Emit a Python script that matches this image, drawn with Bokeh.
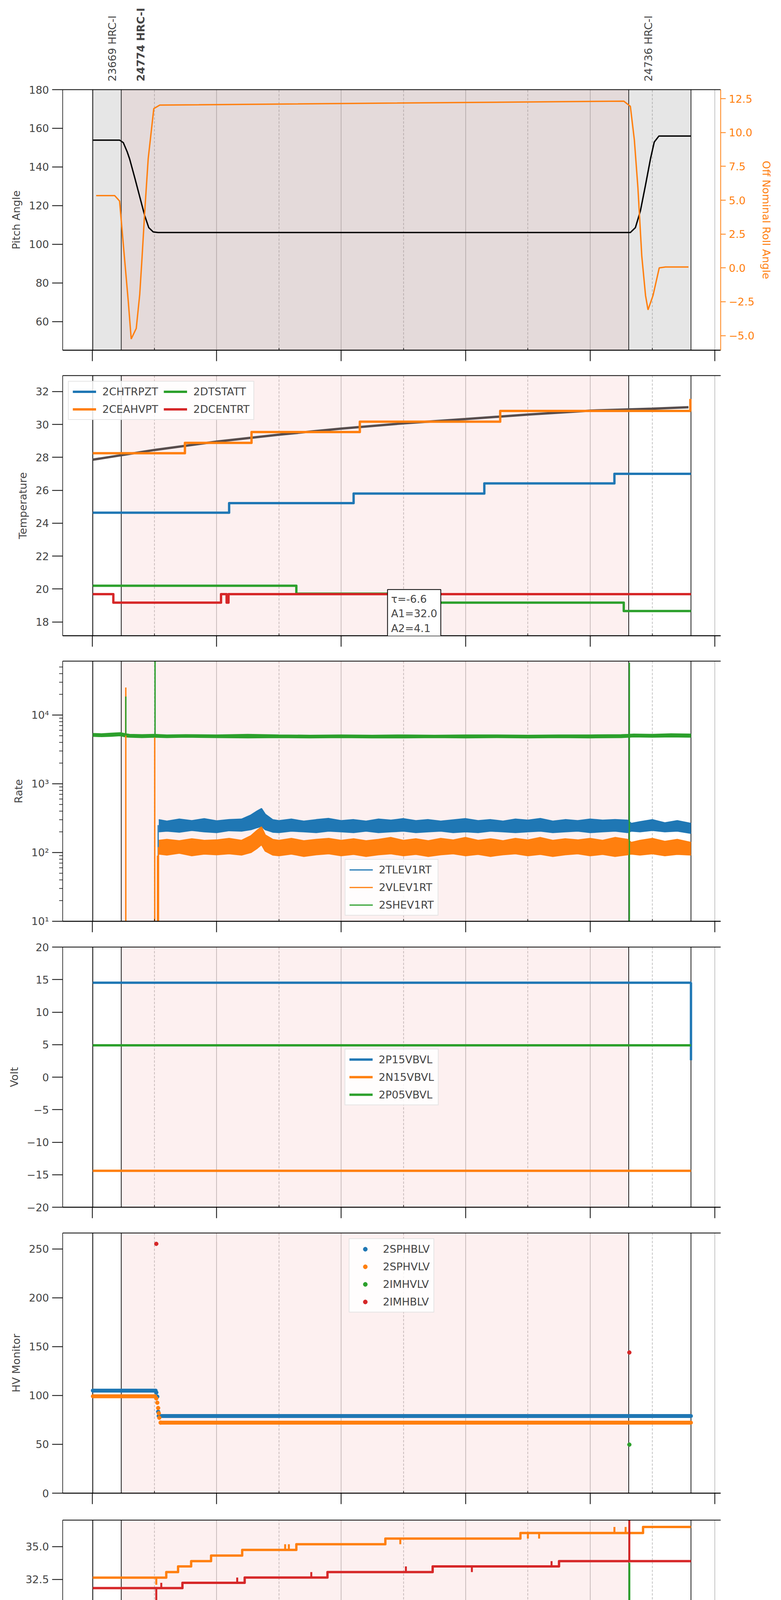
import numpy as np
from bokeh.plotting import figure
from bokeh.layouts import column
from bokeh.models import (Range1d, LinearAxis, FixedTicker, BoxAnnotation, Span,
                          Label, Legend, LegendItem, CustomLabelingPolicy, AllLabels)
from bokeh.embed import file_html
from bokeh.resources import INLINE

BLUE, ORANGE, GREEN, RED = "#1f77b4", "#ff7f0e", "#2ca02c", "#d62728"
FONT = "DejaVu Sans"

# time axis: hours of 2021-04-15 (day 105)
x_ticks = [0, 2, 4, 6, 8, 10]
x_tick_labels = ["00h", "02h", "04h", "06h", "08h", "10h"]
x_minor_ticks = [1, 3, 5, 7, 9]
x_minor_labels = ["01h", "03h", "05h", "07h", "09h"]
x_title = "2021-04-15 (105)"

# observations
obs_start = [0.01, 0.467, 8.62]
obs_end = 9.62
obs_names = ["23669 HRC-I", "24774 HRC-I", "24736 HRC-I"]
obs_current = [False, True, False]

# --- pitch / roll
pitch_ticks = [60, 80, 100, 120, 140, 160, 180]
roll_ticks = [-5.0, -2.5, 0.0, 2.5, 5.0, 7.5, 10.0, 12.5]
pitch_t = [0.01, 0.44, 0.50, 0.563, 0.603, 0.684, 0.764, 0.844, 0.909, 0.981, 1.06,
           8.646, 8.727, 8.807, 8.89, 8.97, 9.03, 9.105, 9.62]
pitch_v = [153.9, 153.9, 152.6, 147.8, 144.0, 134.4, 124.6, 114.8, 108.6, 106.4, 106.1,
           106.1, 108.6, 117.2, 130.7, 144.3, 152.9, 156.0, 156.0]
roll_t = [0.064, 0.362, 0.44, 0.52, 0.58, 0.627, 0.708, 0.764, 0.80, 0.845, 0.90, 0.99, 1.086,
          8.54, 8.646, 8.71, 8.767, 8.83, 8.89, 8.93, 9.01, 9.11, 9.21, 9.58]
roll_v = [5.34, 5.34, 4.94, 0.68, -2.48, -5.25, -4.47, -1.96, 0.68, 4.2, 8.07, 11.77, 12.03,
          12.32, 11.94, 9.47, 5.96, 0.86, -2.04, -3.1, -2.04, 0.0, 0.07, 0.07]

# --- temperature
temp_ticks = [18, 20, 22, 24, 26, 28, 30, 32]
chtrpzt_t = [0.01, 2.2, 4.2, 6.3, 8.39, 9.62]
chtrpzt_v = [24.64, 25.22, 25.8, 26.42, 27.0, 27.0]
ceahvpt_t = [0.01, 1.49, 2.56, 4.30, 6.555, 9.62]
ceahvpt_v = [28.25, 28.88, 29.54, 30.17, 30.82, 30.82]
dtstatt_t = [0.01, 3.28, 5.29, 8.54, 9.62]
dtstatt_v = [20.2, 19.72, 19.17, 18.66, 18.66]
dcentrt_t = [0.01, 0.34, 2.07, 2.16, 2.19, 9.62]
dcentrt_v = [19.69, 19.17, 19.69, 19.17, 19.69, 19.69]
ceahvpt_spk_t = [9.61]
ceahvpt_spk_a = [30.82]
ceahvpt_spk_b = [31.55]
fit_t = [0.01, 1.0, 2.0, 3.0, 4.0, 5.0, 6.0, 7.0, 8.0, 9.0, 9.58]
fit_v = [27.86, 28.45, 28.96, 29.38, 29.75, 30.07, 30.33, 30.6, 30.84, 30.96, 31.05]
fit_tau, fit_a1, fit_a2 = -6.6, 32.0, 4.1
fit_box_x, fit_box_y = 4.745, 19.97

# --- rates
rate_ticks = [10, 100, 1000, 10000]
rate_tick_labels = ["10¹", "10²", "10³", "10⁴"]
rate_minor = [20, 30, 40, 50, 60, 70, 80, 90, 200, 300, 400, 500, 600, 700, 800, 900,
              2000, 3000, 4000, 5000, 6000, 7000, 8000, 9000, 20000, 30000, 40000, 50000]
rate_t = [1.07, 1.2, 1.4, 1.6, 1.8, 2.0, 2.2, 2.4, 2.55, 2.65, 2.72, 2.78, 2.9, 3.0, 3.2,
          3.4, 3.6, 3.8, 4.0, 4.2, 4.4, 4.6, 4.8, 5.0, 5.2, 5.4, 5.6, 5.8, 6.0, 6.2,
          6.4, 6.6, 6.8, 7.0, 7.2, 7.4, 7.6, 7.8, 8.0, 8.2, 8.4, 8.6, 8.66, 8.8, 9.0,
          9.2, 9.4, 9.62]
tlev1rt_hi = [300, 285, 305, 290, 310, 288, 300, 305, 350, 400, 435, 360, 300, 290, 305,
              285, 300, 312, 290, 300, 285, 305, 295, 310, 290, 300, 285, 298, 310, 290,
              300, 285, 305, 295, 312, 285, 300, 290, 305, 295, 300, 295, 265, 280, 300,
              270, 290, 265]
tlev1rt_lo = [200, 205, 198, 210, 200, 195, 208, 205, 215, 230, 240, 215, 198, 195, 205,
              200, 195, 205, 200, 195, 205, 195, 200, 205, 195, 200, 205, 195, 200, 195,
              205, 200, 195, 200, 205, 195, 200, 205, 195, 200, 205, 195, 205, 200, 210,
              200, 205, 190]
vlev1rt_hi = [150, 155, 148, 158, 150, 152, 160, 150, 175, 210, 235, 180, 155, 150, 160,
              148, 155, 160, 150, 158, 148, 155, 165, 150, 158, 148, 160, 152, 165, 150,
              158, 148, 160, 152, 165, 150, 158, 152, 160, 150, 165, 155, 140, 150, 160,
              145, 155, 140]
vlev1rt_lo = [95, 92, 98, 90, 95, 93, 96, 92, 100, 115, 130, 105, 92, 90, 95,
              88, 93, 96, 90, 94, 88, 93, 96, 90, 94, 88, 93, 96, 90, 94,
              88, 93, 96, 90, 94, 88, 93, 96, 90, 94, 88, 93, 95, 92, 96,
              90, 94, 92]
shev_t = [0.01, 0.15, 0.3, 0.45, 0.54, 0.6, 0.8, 1.0, 1.2, 1.5, 2.0, 2.5, 3.0, 3.5, 4.0,
          4.5, 5.0, 5.5, 6.0, 6.5, 7.0, 7.5, 8.0, 8.5, 8.62, 8.7, 9.0, 9.3, 9.62]
shev1rt_hi = [5350, 5300, 5400, 5500, 5300, 5200, 5150, 5200, 5100, 5150, 5100, 5200, 5100,
              5050, 5100, 5050, 5100, 5050, 5100, 5100, 5050, 5100, 5100, 5150, 5200, 5250,
              5200, 5300, 5250]
shev1rt_lo = [4900, 4850, 4900, 5000, 4800, 4750, 4700, 4750, 4700, 4750, 4700, 4650, 4700,
              4650, 4700, 4650, 4650, 4700, 4650, 4700, 4650, 4700, 4650, 4700, 4750, 4800,
              4750, 4800, 4750]
shev_spk_t = [0.54, 1.01, 8.63]
shev_spk_a = [5000, 5000, 1]
shev_spk_b = [18500, 70000, 57400]
vlev_spk_t = [0.54, 1.005, 1.05, 1.065]
vlev_spk_a = [1, 1, 1, 1]
vlev_spk_b = [25000, 4700, 90, 120]
tlev_spk_t = [1.06]
tlev_spk_a = [50]
tlev_spk_b = [250]

# --- volts
volt_ticks = [-20, -15, -10, -5, 0, 5, 10, 15, 20]
p15vbvl_t = [0.01, 9.62, 9.62]
p15vbvl_v = [14.52, 14.52, 2.6]
n15vbvl_t = [0.01, 9.62]
n15vbvl_v = [-14.4, -14.4]
p05vbvl_t = [0.01, 9.62]
p05vbvl_v = [4.9, 4.9]

# --- HV monitor (flat runs + single samples)
hv_ticks = [0, 50, 100, 150, 200, 250]
sphblv_run_t0 = [0.01, 1.07]
sphblv_run_t1 = [1.02, 9.62]
sphblv_run_v = [105.0, 79.0]
sphblv_dot_t = [1.03, 1.046, 1.06, 1.07]
sphblv_dot_v = [103.0, 98.8, 83.4, 79.0]
sphvlv_run_t0 = [0.01, 1.10]
sphvlv_run_t1 = [1.01, 9.62]
sphvlv_run_v = [99.2, 72.2]
sphvlv_dot_t = [1.03, 1.046, 1.06, 1.07, 1.078, 1.10]
sphvlv_dot_v = [97.0, 92.6, 87.2, 81.8, 77.2, 72.2]
imhvlv_dot_t = [8.63]
imhvlv_dot_v = [49.7]
imhblv_dot_t = [1.03, 8.63]
imhblv_dot_v = [255.2, 144.0]

# --- detector temperatures
det_ticks = [17.5, 20.0, 22.5, 25.0, 27.5, 30.0, 32.5, 35.0]
spinatm_t = [0.01, 2.38, 9.62]
spinatm_v = [18.32, 18.96, 18.96]
spinatm_blk_t0, spinatm_blk_t1 = [2.12], [2.38]
spinatm_blk_lo, spinatm_blk_hi = [18.32], [18.96]
spinatm_spk_t = [1.51, 8.63]
spinatm_spk_a = [18.32, 18.96]
spinatm_spk_b = [19.06, 19.65]
sphvatm_t = [0.01, 1.19, 1.38, 1.59, 1.91, 2.41, 3.28, 4.71, 6.88, 8.85, 9.62]
sphvatm_v = [32.64, 33.06, 33.49, 33.89, 34.31, 34.74, 35.17, 35.60, 36.02, 36.48, 36.48]
sphvatm_spk_t = [1.03, 3.10, 3.16, 4.95, 7.0, 7.18, 8.39, 8.57]
sphvatm_spk_a = [32.64, 34.74, 34.74, 35.60, 36.02, 36.02, 36.02, 36.02]
sphvatm_spk_b = [32.1, 35.17, 35.17, 35.17, 35.60, 35.60, 36.48, 36.48]
iminatm_t = [0.01, 0.36, 9.62]
iminatm_v = [20.30, 19.65, 19.65]
iminatm_blk_t0, iminatm_blk_t1 = [0.89, 1.44], [1.41, 2.16]
iminatm_blk_lo, iminatm_blk_hi = [19.65, 19.65], [20.30, 20.30]
iminatm_spk_t = [0.47, 0.52, 0.57, 0.64, 0.83, 2.58, 2.64, 2.85, 8.1, 8.63]
iminatm_spk_a = [19.65] * 10
iminatm_spk_b = [20.3, 20.3, 20.3, 20.3, 20.3, 20.3, 20.3, 20.3, 18.9, 33.77]
imhvatm_t = [0.01, 1.45, 2.45, 3.78, 5.47, 7.50, 9.62]
imhvatm_v = [31.85, 32.25, 32.65, 33.06, 33.49, 33.89, 33.89]
imhvatm_spk_t = [1.03, 8.63, 1.11, 2.33, 3.52, 5.04, 6.1, 7.38]
imhvatm_spk_a = [31.85, 33.89, 31.85, 32.25, 32.65, 33.06, 33.49, 33.49]
imhvatm_spk_b = [17.0, 40.0, 32.25, 32.65, 33.06, 33.49, 33.06, 33.89]

# --- FEA temperatures
fea_ticks = [14, 16, 18, 20, 22, 24]
fhtrmzt_t = [0.01, 1.09, 2.01, 2.98, 4.09, 5.47, 7.34, 9.62]
fhtrmzt_v = [23.48, 22.91, 22.40, 21.81, 21.28, 20.74, 20.21, 20.21]
fhtrmzt_spk_t = [0.5]
fhtrmzt_spk_a = [23.48]
fhtrmzt_spk_b = [22.89]
fradpyt_t = [0.01, 0.70, 0.85, 1.09, 1.41, 1.95, 2.75, 3.74, 4.95, 6.51, 9.14, 9.57, 9.62]
fradpyt_v = [18.66, 19.17, 18.66, 18.16, 17.66, 17.16, 16.69, 16.19, 15.72, 15.25, 15.72,
             16.22, 16.22]
fepratm_t = [0.01, 2.33, 3.84, 5.83, 9.62]
fepratm_v = [24.63, 23.89, 23.14, 22.40, 22.40]
fepratm_spk_t = [1.03, 3.92, 4.05, 8.63]
fepratm_spk_a = [24.63, 23.14, 23.14, 22.40]
fepratm_spk_b = [23.09, 23.89, 23.89, 26.0]
fe00atm_t = [0.01, 1.29, 1.97, 2.65, 3.42, 4.22, 5.23, 6.51, 8.12, 9.33, 9.62]
fe00atm_v = [22.98, 22.67, 22.34, 22.04, 21.72, 21.42, 21.10, 20.78, 20.49, 20.78, 20.78]
fe00atm_spk_t = [1.03, 8.63, 1.19, 1.22, 2.29, 2.35, 2.55, 2.71, 2.87, 2.94, 3.10, 3.26, 3.32,
                 3.54, 3.84, 3.88, 4.41, 4.54, 4.64, 5.04, 5.12, 5.55, 5.81, 5.84, 5.90,
                 6.11, 6.62, 6.73, 7.01, 7.55, 7.68, 7.78, 7.86, 7.92, 8.35, 8.47, 9.39]
fe00atm_spk_a = [22.98, 20.49, 22.98, 22.98, 22.34, 22.34, 22.34, 22.04, 22.04, 22.04, 22.04,
                 22.04, 22.04, 21.72, 21.72, 21.72, 21.42, 21.42, 21.42, 21.42, 21.42, 21.10,
                 21.10, 21.10, 21.10, 21.10, 20.78, 20.78, 20.78, 20.78, 20.78, 20.78, 20.78,
                 20.78, 20.49, 20.49, 20.78]
fe00atm_spk_b = [13.0, 13.0, 23.68, 22.62, 23.38, 21.04, 23.38, 22.72, 21.68, 21.36, 20.45,
                 23.04, 22.40, 21.36, 20.74, 22.40, 19.82, 20.15, 22.40, 21.76, 21.04, 22.40,
                 20.45, 21.47, 21.47, 20.45, 21.47, 21.76, 21.17, 20.45, 20.45, 20.15, 21.47,
                 20.45, 19.85, 20.83, 20.45]


def minus(s):
    return s.replace("-", "\u2212")


xr = Range1d(-0.474, 10.097)
xticker = FixedTicker(ticks=x_ticks, minor_ticks=x_minor_ticks)
no_labels = CustomLabelingPolicy(code="return []")


def panel(ylabel, yr, yticks, ylabels, top, fh, bottom, log=False, yminor=None):
    p = figure(x_range=xr, y_range=yr, y_axis_type="log" if log else "linear",
               frame_width=1685, frame_height=fh,
               min_border_left=160, min_border_right=139,
               min_border_top=top, min_border_bottom=bottom,
               output_backend="svg", toolbar_location=None)
    p.outline_line_color = None
    p.ygrid.visible = False
    p.xgrid.ticker = xticker
    p.xgrid.grid_line_color = "#b0b0b0"
    p.xgrid.grid_line_width = 1.5
    p.xgrid.minor_grid_line_color = "#b0b0b0"
    p.xgrid.minor_grid_line_width = 1.5
    p.xgrid.minor_grid_line_dash = "6 4"

    # shared time axis: ticks only
    xa = p.below[0]
    xa.ticker = xticker
    xa.axis_line_width = 2.5
    xa.major_tick_out, xa.major_tick_in, xa.major_tick_line_width = 28, 0, 2
    xa.minor_tick_out, xa.minor_tick_in, xa.minor_tick_line_width = 0, 6, 1.5
    xa.major_label_text_font_size = "1px"
    xa.major_label_standoff = 0
    xa.major_label_policy = no_labels

    ya = p.left[0]
    ya.ticker = FixedTicker(ticks=yticks, minor_ticks=yminor or [])
    ya.major_label_overrides = {t: l for t, l in zip(yticks, ylabels)}
    ya.axis_label = ylabel
    ya.axis_line_width = 1.5
    ya.major_tick_out, ya.major_tick_in, ya.major_tick_line_width = 27, 0, 2
    ya.minor_tick_out, ya.minor_tick_in, ya.minor_tick_line_width = 9, 0, 1.5
    ya.major_label_text_font = FONT
    ya.major_label_text_font_size = "27px"
    ya.major_label_standoff = 8
    ya.axis_label_text_font = FONT
    ya.axis_label_text_font_size = "27px"
    ya.axis_label_text_font_style = "normal"
    ya.axis_label_standoff = 14

    # top spine
    ta = LinearAxis(ticker=FixedTicker(ticks=[]), axis_line_width=2,
                    major_tick_out=0, major_tick_in=0, minor_tick_out=0, minor_tick_in=0,
                    major_label_text_font_size="1px", major_label_standoff=0)
    p.add_layout(ta, "above")

    # observation shading and boundaries
    p.add_layout(BoxAnnotation(left=obs_start[1], right=obs_start[2], fill_color="lightcoral",
                               fill_alpha=0.12, line_color=None, level="underlay"))
    for t in obs_start + [obs_end]:
        p.add_layout(Span(location=t, dimension="height", line_color="black",
                          line_width=1.8, level="underlay"))
    return p


def add_legend(p, items, location, ncols=1):
    lg = Legend(items=[LegendItem(label=n, renderers=[r]) for n, r in items],
                location=location, ncols=ncols,
                label_text_font=FONT, label_text_font_size="27px",
                glyph_width=60, glyph_height=27, label_height=27,
                label_standoff=16, spacing=14, padding=10, margin=14,
                border_line_color="#cccccc", border_line_width=2,
                background_fill_alpha=0.85)
    p.add_layout(lg)


def spikes(p, t, a, b, color, width):
    p.segment(x0=t, y0=a, x1=t, y1=b, line_color=color, line_width=width)


def steps(p, t, v, color, width=6):
    return p.step(t, v, mode="after", line_color=color, line_width=width, line_join="round")


# 0. header with the observation names
head = figure(x_range=xr, y_range=Range1d(0, 1), frame_width=1685, frame_height=209,
              min_border_left=160, min_border_right=139, min_border_top=0,
              min_border_bottom=0, output_backend="svg", toolbar_location=None)
head.outline_line_color = None
head.axis.visible = False
head.grid.visible = False
for t, name, cur in zip(obs_start, obs_names, obs_current):
    head.add_layout(Label(x=t, y=0.005, text=name, angle=90, angle_units="deg",
                          x_offset=50, text_align="left", text_baseline="middle",
                          text_font=FONT, text_font_size="27px",
                          text_font_style="bold" if cur else "normal"))

# 1. pitch and roll
p1 = panel("Pitch Angle", Range1d(45.2, 180), pitch_ticks, [str(t) for t in pitch_ticks],
           20, 667, 32)
p1.add_layout(BoxAnnotation(left=obs_start[0], right=obs_end, fill_color="gray",
                            fill_alpha=0.2, line_color=None, level="underlay"))
p1.extra_y_ranges = {"roll": Range1d(-6.08, 13.17)}
ra = LinearAxis(y_range_name="roll", axis_label="Off Nominal Roll Angle",
                ticker=FixedTicker(ticks=roll_ticks),
                major_label_overrides={t: minus("%.1f" % t) for t in roll_ticks},
                axis_line_color=ORANGE, axis_line_width=2,
                major_tick_line_color=ORANGE, major_tick_out=13, major_tick_in=0,
                major_tick_line_width=2, minor_tick_out=0, minor_tick_in=0,
                major_label_text_color=ORANGE, major_label_text_font=FONT,
                major_label_text_font_size="27px", major_label_standoff=8,
                axis_label_text_color=ORANGE, axis_label_text_font=FONT,
                axis_label_text_font_size="27px", axis_label_text_font_style="normal",
                axis_label_standoff=12)
p1.add_layout(ra, "right")
p1.line(pitch_t, pitch_v, line_color="black", line_width=3.5)
p1.line(roll_t, roll_v, y_range_name="roll", line_color=ORANGE, line_width=3.5)

# 2. temperatures
p2 = panel("Temperature", Range1d(17.16, 32.97), temp_ticks, [str(t) for t in temp_ticks],
           33, 666, 32)
p2.line(fit_t, fit_v, line_color="#574d4d", line_width=6)
r_ch = steps(p2, chtrpzt_t, chtrpzt_v, BLUE)
r_ce = steps(p2, ceahvpt_t, ceahvpt_v, ORANGE)
spikes(p2, ceahvpt_spk_t, ceahvpt_spk_a, ceahvpt_spk_b, ORANGE, 6)
r_dt = steps(p2, dtstatt_t, dtstatt_v, GREEN)
r_dc = steps(p2, dcentrt_t, dcentrt_v, RED)
add_legend(p2, [("2CHTRPZT", r_ch), ("2CEAHVPT", r_ce), ("2DTSTATT", r_dt),
                ("2DCENTRT", r_dc)], "top_left", ncols=2)
p2.add_layout(Label(x=fit_box_x, y=fit_box_y,
                    text="τ=%.1f\nA1=%.1f\nA2=%.1f" % (fit_tau, fit_a1, fit_a2),
                    text_align="left", text_baseline="top", text_font=FONT,
                    text_font_size="27px", text_line_height=1.2,
                    background_fill_color="white", border_line_color="black",
                    border_line_width=2, padding=9))

# 3. rates (log)
p3 = panel("Rate", Range1d(10, 60500), rate_ticks, rate_tick_labels, 33, 666, 33,
           log=True, yminor=rate_minor)
p3.varea(x=shev_t, y1=shev1rt_lo, y2=shev1rt_hi, fill_color=GREEN)
r_sh = p3.line(shev_t, shev1rt_hi, line_color=GREEN, line_width=3)
p3.line(shev_t, shev1rt_lo, line_color=GREEN, line_width=3)
p3.varea(x=rate_t, y1=tlev1rt_lo, y2=tlev1rt_hi, fill_color=BLUE)
r_tl = p3.line(rate_t, tlev1rt_hi, line_color=BLUE, line_width=3)
p3.line(rate_t, tlev1rt_lo, line_color=BLUE, line_width=3)
p3.varea(x=rate_t, y1=vlev1rt_lo, y2=vlev1rt_hi, fill_color=ORANGE)
r_vl = p3.line(rate_t, vlev1rt_hi, line_color=ORANGE, line_width=3)
p3.line(rate_t, vlev1rt_lo, line_color=ORANGE, line_width=3)
spikes(p3, tlev_spk_t, tlev_spk_a, tlev_spk_b, BLUE, 3)
spikes(p3, vlev_spk_t, vlev_spk_a, vlev_spk_b, ORANGE, 3.5)
spikes(p3, shev_spk_t, shev_spk_a, shev_spk_b, GREEN, 3.5)
add_legend(p3, [("2TLEV1RT", r_tl), ("2VLEV1RT", r_vl), ("2SHEV1RT", r_sh)], "bottom_center")

# 4. volts
p4 = panel("Volt", Range1d(-20, 20), volt_ticks, [minus(str(t)) for t in volt_ticks],
           33, 666, 33)
r_p15 = p4.line(p15vbvl_t, p15vbvl_v, line_color=BLUE, line_width=6)
r_n15 = p4.line(n15vbvl_t, n15vbvl_v, line_color=ORANGE, line_width=6)
r_p05 = p4.line(p05vbvl_t, p05vbvl_v, line_color=GREEN, line_width=6)
add_legend(p4, [("2P15VBVL", r_p15), ("2N15VBVL", r_n15), ("2P05VBVL", r_p05)], "center")

# 5. HV monitor
p5 = panel("HV Monitor", Range1d(0, 266.3), hv_ticks, [str(t) for t in hv_ticks],
           33, 666, 34)
p5.segment(x0=sphblv_run_t0, y0=sphblv_run_v, x1=sphblv_run_t1, y1=sphblv_run_v,
           line_color=BLUE, line_width=10, line_cap="round")
r_sb = p5.scatter(sphblv_dot_t, sphblv_dot_v, size=10, color=BLUE)
p5.segment(x0=sphvlv_run_t0, y0=sphvlv_run_v, x1=sphvlv_run_t1, y1=sphvlv_run_v,
           line_color=ORANGE, line_width=10, line_cap="round")
r_sv = p5.scatter(sphvlv_dot_t, sphvlv_dot_v, size=10, color=ORANGE)
r_iv = p5.scatter(imhvlv_dot_t, imhvlv_dot_v, size=10, color=GREEN)
r_ib = p5.scatter(imhblv_dot_t, imhblv_dot_v, size=10, color=RED)
add_legend(p5, [("2SPHBLV", r_sb), ("2SPHVLV", r_sv), ("2IMHVLV", r_iv),
                ("2IMHBLV", r_ib)], "top_center")

# 6. detector temperatures
p6 = panel("Detector Temp", Range1d(17.37, 37.0), det_ticks, ["%.1f" % t for t in det_ticks],
           35, 663, 35)
p6.quad(left=spinatm_blk_t0, right=spinatm_blk_t1, bottom=spinatm_blk_lo, top=spinatm_blk_hi,
        fill_color=BLUE, line_color=BLUE, line_width=6)
r_spi = steps(p6, spinatm_t, spinatm_v, BLUE)
spikes(p6, spinatm_spk_t, spinatm_spk_a, spinatm_spk_b, BLUE, 5)
r_sph = steps(p6, sphvatm_t, sphvatm_v, ORANGE)
spikes(p6, sphvatm_spk_t, sphvatm_spk_a, sphvatm_spk_b, ORANGE, 5)
p6.quad(left=iminatm_blk_t0, right=iminatm_blk_t1, bottom=iminatm_blk_lo, top=iminatm_blk_hi,
        fill_color=GREEN, line_color=GREEN, line_width=6)
r_imi = steps(p6, iminatm_t, iminatm_v, GREEN)
spikes(p6, iminatm_spk_t, iminatm_spk_a, iminatm_spk_b, GREEN, 5)
r_imh = steps(p6, imhvatm_t, imhvatm_v, RED)
spikes(p6, imhvatm_spk_t, imhvatm_spk_a, imhvatm_spk_b, RED, 5)
add_legend(p6, [("2SPINATM", r_spi), ("2SPHVATM", r_sph), ("2IMINATM", r_imi),
                ("2IMHVATM", r_imh)], "center")

# 7. FEA temperatures, with the labelled time axis
p7 = panel("FEA Temp", Range1d(13.75, 25.3), fea_ticks, [str(t) for t in fea_ticks],
           35, 662, 96)
r_fh = steps(p7, fhtrmzt_t, fhtrmzt_v, BLUE)
spikes(p7, fhtrmzt_spk_t, fhtrmzt_spk_a, fhtrmzt_spk_b, BLUE, 5)
r_fr = steps(p7, fradpyt_t, fradpyt_v, ORANGE)
r_fe = steps(p7, fepratm_t, fepratm_v, GREEN)
spikes(p7, fepratm_spk_t, fepratm_spk_a, fepratm_spk_b, GREEN, 5)
r_f0 = steps(p7, fe00atm_t, fe00atm_v, RED)
spikes(p7, fe00atm_spk_t, fe00atm_spk_a, fe00atm_spk_b, RED, 5)
add_legend(p7, [("2FHTRMZT", r_fh), ("2FRADPYT", r_fr), ("2FEPRATM", r_fe),
                ("2FE00ATM", r_f0)], "bottom_left")

# inner axis: odd-hour labels; outer axis: even-hour labels with long ticks
xa = p7.below[0]
xa.ticker = FixedTicker(ticks=x_minor_ticks)
xa.major_label_policy = AllLabels()
xa.major_label_overrides = {t: l for t, l in zip(x_minor_ticks, x_minor_labels)}
xa.major_label_text_font = FONT
xa.major_label_text_font_size = "19px"
xa.major_label_standoff = 3
xa.major_tick_out, xa.major_tick_in, xa.major_tick_line_width = 0, 6, 1.5
xa2 = LinearAxis(ticker=FixedTicker(ticks=x_ticks),
                 major_label_overrides={t: l for t, l in zip(x_ticks, x_tick_labels)},
                 axis_line_color=None, major_tick_out=3, major_tick_in=25,
                 major_tick_line_width=2, minor_tick_out=0, minor_tick_in=0,
                 major_label_text_font=FONT, major_label_text_font_size="30px",
                 major_label_standoff=1, axis_label=x_title, axis_label_text_font=FONT,
                 axis_label_text_font_size="28px", axis_label_text_font_style="normal",
                 axis_label_standoff=5)
p7.add_layout(xa2, "below")

layout = column(head, p1, p2, p3, p4, p5, p6, p7)
open("out.html", "w").write(file_html(layout, INLINE))
